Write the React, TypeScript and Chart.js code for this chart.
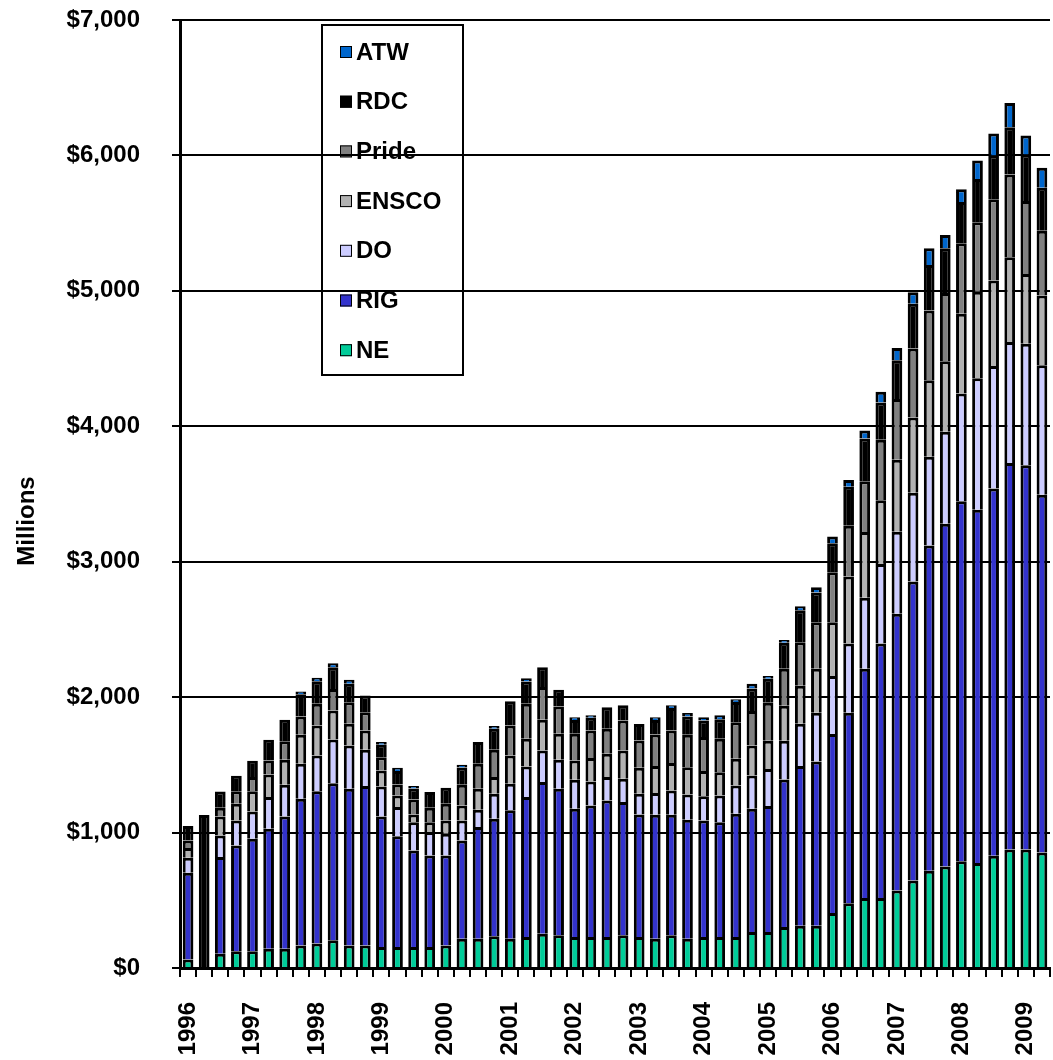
import React, { useEffect, useRef } from 'react';
import { Chart, registerables } from 'chart.js';

Chart.register(...registerables);

const categories = [
  '1996 Q1', '1996 Q2', '1996 Q3', '1996 Q4',
  '1997 Q1', '1997 Q2', '1997 Q3', '1997 Q4',
  '1998 Q1', '1998 Q2', '1998 Q3', '1998 Q4',
  '1999 Q1', '1999 Q2', '1999 Q3', '1999 Q4',
  '2000 Q1', '2000 Q2', '2000 Q3', '2000 Q4',
  '2001 Q1', '2001 Q2', '2001 Q3', '2001 Q4',
  '2002 Q1', '2002 Q2', '2002 Q3', '2002 Q4',
  '2003 Q1', '2003 Q2', '2003 Q3', '2003 Q4',
  '2004 Q1', '2004 Q2', '2004 Q3', '2004 Q4',
  '2005 Q1', '2005 Q2', '2005 Q3', '2005 Q4',
  '2006 Q1', '2006 Q2', '2006 Q3', '2006 Q4',
  '2007 Q1', '2007 Q2', '2007 Q3', '2007 Q4',
  '2008 Q1', '2008 Q2', '2008 Q3', '2008 Q4',
  '2009 Q1', '2009 Q2',
];

const tickLabels = [
  '1996', '', '', '', '1997', '', '', '', '1998', '', '', '', '1999', '', '', '',
  '2000', '', '', '', '2001', '', '', '', '2002', '', '', '', '2003', '', '', '',
  '2004', '', '', '', '2005', '', '', '', '2006', '', '', '', '2007', '', '', '',
  '2008', '', '', '', '2009', '',
];

const yTicks = [0, 1000, 2000, 3000, 4000, 5000, 6000, 7000];

const NE = [62, 0, 106, 123, 123, 143, 143, 167, 180, 204, 167, 167, 155, 155, 155, 155, 167, 216, 216, 234, 216, 229, 253, 241, 229, 229, 229, 241, 229, 216, 241, 216, 229, 229, 229, 266, 266, 303, 312, 312, 406, 478, 516, 516, 572, 647, 719, 750, 788, 775, 828, 875, 875, 853];
const RIG = [641, 0, 713, 782, 831, 885, 976, 1083, 1126, 1161, 1156, 1176, 964, 817, 713, 676, 664, 726, 825, 868, 948, 1033, 1120, 1082, 947, 971, 1008, 984, 905, 916, 891, 879, 861, 848, 910, 910, 931, 1088, 1179, 1213, 1322, 1406, 1693, 1881, 2044, 2206, 2400, 2531, 2659, 2609, 2713, 2853, 2838, 2641];
const DO = [111, 0, 160, 185, 202, 234, 234, 258, 263, 323, 320, 268, 222, 216, 209, 173, 160, 148, 127, 185, 196, 226, 233, 215, 214, 178, 173, 172, 153, 160, 179, 187, 179, 197, 209, 246, 272, 287, 312, 359, 428, 513, 525, 587, 606, 656, 656, 678, 796, 971, 905, 895, 897, 957];
const ENSCO = [72, 0, 140, 123, 150, 167, 185, 214, 222, 214, 160, 143, 118, 86, 57, 73, 99, 110, 155, 123, 209, 204, 227, 191, 143, 172, 172, 209, 191, 199, 202, 201, 185, 172, 197, 221, 209, 259, 281, 325, 397, 494, 485, 469, 531, 556, 565, 521, 588, 638, 630, 625, 515, 515];
const Pride = [56, 0, 64, 93, 104, 104, 137, 135, 160, 159, 160, 135, 98, 81, 111, 106, 123, 153, 185, 201, 222, 259, 241, 202, 196, 204, 184, 222, 202, 233, 241, 239, 251, 246, 270, 254, 281, 272, 322, 344, 369, 375, 375, 447, 448, 509, 515, 505, 520, 514, 600, 612, 539, 478];
const RDC = [106, 1130, 121, 113, 120, 152, 158, 165, 167, 160, 135, 123, 91, 100, 80, 116, 118, 128, 160, 155, 179, 164, 147, 123, 103, 93, 160, 113, 121, 108, 165, 135, 122, 145, 150, 166, 177, 193, 236, 219, 215, 287, 315, 275, 287, 330, 336, 329, 306, 319, 324, 348, 343, 318];
const ATW = [0, 0, 0, 0, 0, 0, 0, 20, 25, 30, 30, 0, 20, 23, 18, 0, 0, 20, 0, 20, 0, 25, 0, 0, 20, 20, 0, 0, 0, 20, 22, 25, 25, 30, 20, 35, 20, 20, 30, 40, 50, 50, 60, 80, 90, 86, 123, 98, 93, 137, 162, 179, 140, 147];

// bottom to top stacking order
const seriesNames = ['NE', 'RIG', 'DO', 'ENSCO', 'Pride', 'RDC', 'ATW'];
const seriesData = [NE, RIG, DO, ENSCO, Pride, RDC, ATW];
const seriesColors = ['#00CC99', '#3333CC', '#CCCCFF', '#B2B2B2', '#808080', '#000000', '#0066CC'];

const FONT = '"Liberation Sans", Arial, Helvetica, sans-serif';

const legendPlugin = {
  id: 'boxLegend',
  beforeDraw(chart: any) {
    const ctx = chart.ctx as CanvasRenderingContext2D;
    ctx.save();
    ctx.lineWidth = 2;
    ctx.strokeStyle = '#000';
    ctx.strokeRect(322, 25, 141, 350);
    ctx.font = `bold 24px ${FONT}`;
    ctx.textBaseline = 'middle';
    ctx.textAlign = 'left';
    const order = [6, 5, 4, 3, 2, 1, 0];
    order.forEach((si, i) => {
      const cy = 52 + 49.7 * i;
      ctx.fillStyle = seriesColors[si];
      ctx.fillRect(340, cy - 6, 12, 12);
      ctx.lineWidth = 1;
      ctx.strokeStyle = '#000';
      ctx.strokeRect(340.5, cy - 5.5, 11, 11);
      ctx.fillStyle = '#000';
      ctx.fillText(seriesNames[si], 356, cy + 1);
    });
    ctx.restore();
  },
};

const titlePlugin = {
  id: 'yTitle',
  afterDraw(chart: any) {
    const ctx = chart.ctx as CanvasRenderingContext2D;
    ctx.save();
    ctx.translate(27, 521);
    ctx.rotate(-Math.PI / 2);
    ctx.font = `bold 24px ${FONT}`;
    ctx.fillStyle = '#000';
    ctx.textAlign = 'center';
    ctx.textBaseline = 'middle';
    ctx.fillText('Millions', 0, 0);
    ctx.restore();
  },
};

export default function App() {
  const ref = useRef<HTMLCanvasElement>(null);

  useEffect(() => {
    if (!ref.current) return;
    const chart = new Chart(ref.current, {
      type: 'bar',
      data: {
        labels: categories,
        datasets: seriesNames.map((name, i) => ({
          label: name,
          data: seriesData[i],
          backgroundColor: seriesColors[i],
          borderColor: '#000000',
          borderWidth: 3,
          borderSkipped: 'start',
          barPercentage: 0.665,
          categoryPercentage: 1,
        })),
      },
      options: {
        animation: false,
        responsive: false,
        maintainAspectRatio: false,
        devicePixelRatio: 1,
        layout: { padding: { top: 20, right: 3, left: 0, bottom: 0 } },
        plugins: {
          legend: { display: false },
          tooltip: { enabled: false },
          title: { display: false },
        },
        scales: {
          x: {
            stacked: true,
            offset: true,
            grid: {
              display: true,
              offset: true,
              drawOnChartArea: false,
              drawTicks: true,
              tickLength: 9,
              color: '#000',
              lineWidth: 2,
            },
            border: { display: true, color: '#000', width: 3 },
            ticks: {
              autoSkip: false,
              maxRotation: 90,
              minRotation: 90,
              padding: 25,
              color: '#000',
              font: { family: FONT, size: 24, weight: 'bold' },
              callback: (_v: any, i: number) => tickLabels[i],
            },
            afterFit: (s: any) => {
              s.height = 92;
              s.paddingLeft = 0;
              s.paddingRight = 0;
              s.paddingTop = 0;
              s.paddingBottom = 0;
            },
          },
          y: {
            stacked: true,
            min: 0,
            max: 7000,
            afterBuildTicks: (s: any) => {
              s.ticks = yTicks.map((v) => ({ value: v }));
            },
            grid: {
              color: '#000',
              lineWidth: 2,
              drawTicks: true,
              tickLength: 8,
            },
            border: { display: true, color: '#000', width: 3 },
            ticks: {
              padding: 32,
              color: '#000',
              font: { family: FONT, size: 24, weight: 'bold' },
              callback: (v: any) => '$' + Number(v).toLocaleString('en-US'),
            },
            afterFit: (s: any) => {
              s.width = 180;
              s.paddingLeft = 0;
              s.paddingRight = 0;
              s.paddingTop = 0;
              s.paddingBottom = 0;
            },
          },
        },
      },
      plugins: [legendPlugin, titlePlugin],
    } as any);
    return () => chart.destroy();
  }, []);

  return (
    <div style={{ position: 'absolute', left: 0, top: 0, width: 1053, height: 1060, background: '#fff' }}>
      <canvas ref={ref} width={1053} height={1060} style={{ display: 'block' }} />
    </div>
  );
}
